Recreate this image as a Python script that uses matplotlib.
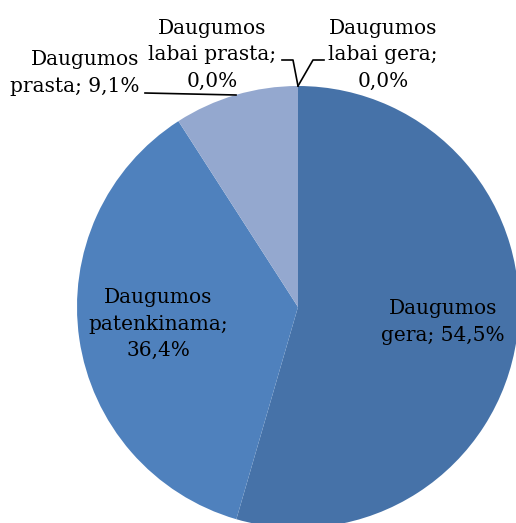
import matplotlib
matplotlib.use("Agg")
import matplotlib.pyplot as plt

# data, clockwise from 12 o'clock
labels = ["Daugumos\nlabai gera;\n0,0%", "Daugumos\ngera; 54,5%",
          "Daugumos\npatenkinama;\n36,4%", "Daugumos\nprasta; 9,1%",
          "Daugumos\nlabai prasta;\n0,0%"]
values = [0.0, 54.5, 36.4, 9.1, 0.0]
colors = ["#4a7ab5", "#4672a8", "#4f81bd", "#94a8cf", "#b0bedd"]

plt.rcParams['font.family'] = ['DejaVu Serif']

W, H = 516, 523
fig = plt.figure(figsize=(W / 100, H / 100), dpi=100)
ax = fig.add_axes([0, 0, 1, 1])

cx, cy, r = 298, H - 307, 221
ax.pie(values, colors=colors, startangle=90, counterclock=False,
       center=(cx, cy), radius=r, frame=True,
       wedgeprops=dict(linewidth=0))
ax.set_xlim(0, W)
ax.set_ylim(0, H)
ax.set_aspect('equal')
ax.axis('off')

fs = 14.5
ls = 1.5
def py(y):
    return H - y

# labels inside the slices
ax.text(443, py(322), labels[1], ha='center', va='center', fontsize=fs, linespacing=ls)
ax.text(158, py(324), labels[2], ha='center', va='center', fontsize=fs, linespacing=ls)
# outside labels
ax.text(139, py(73), labels[3], ha='right', va='center', fontsize=fs, linespacing=ls)
ax.text(212, py(55), labels[4], ha='center', va='center', fontsize=fs, linespacing=ls)
ax.text(383, py(55), labels[0], ha='center', va='center', fontsize=fs, linespacing=ls)

# leader lines
ax.plot([145, 236], [py(93), py(95)], color='black', lw=1.2)
ax.plot([282, 293, 298], [py(60), py(60), py(86)], color='black', lw=1.2)
ax.plot([324, 313, 298], [py(60), py(60), py(86)], color='black', lw=1.2)

fig.savefig("out.png", dpi=100)
